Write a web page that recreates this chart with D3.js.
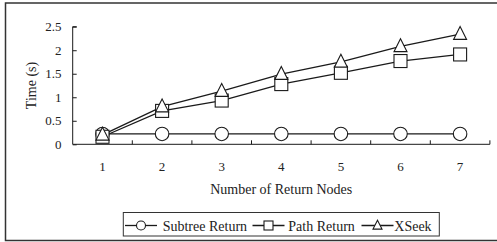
<!DOCTYPE html>
<html>
<head>
<meta charset="utf-8">
<script src="https://cdn.jsdelivr.net/npm/d3@7/dist/d3.min.js"></script>
<style>
  body { margin: 0; background: #fff; }
  svg text { font-family: 'Liberation Serif', 'DejaVu Serif', serif; fill: #222; }
</style>
</head>
<body>
<svg id="chart" width="497" height="242"></svg>
<script>
var categories = [1, 2, 3, 4, 5, 6, 7];
var subtreeReturn = [0.22, 0.22, 0.22, 0.22, 0.22, 0.22, 0.22];
var pathReturn = [0.16, 0.71, 0.93, 1.28, 1.52, 1.77, 1.91];
var xseek = [0.2, 0.8, 1.13, 1.49, 1.75, 2.08, 2.34];
var yTicks = [0, 0.5, 1, 1.5, 2, 2.5];
var seriesNames = ['Subtree Return', 'Path Return', 'XSeek'];
var seriesMarkers = ['circle', 'square', 'triangle'];

var svg = d3.select('#chart');
var ink = '#1a1a1a';
var serif = "'Liberation Serif', 'DejaVu Serif', serif";

// outer frame
svg.append('rect')
  .attr('x', 5.5).attr('y', 3)
  .attr('width', 496).attr('height', 237.5)
  .attr('fill', 'none')
  .attr('stroke', '#333')
  .attr('stroke-width', 1.5);

var x = d3.scaleBand().domain(categories).range([72.7, 489.9]);
var y = d3.scaleLinear().domain([0, 2.5]).range([144.3, 26.7]);

function cx(d) { return x(d) + x.bandwidth() / 2; }

// axes
var yAxis = svg.append('g')
  .attr('transform', 'translate(72.7,0)')
  .call(d3.axisRight(y).tickValues(yTicks).tickSize(4).tickFormat(d3.format('')));
yAxis.selectAll('text').remove();
yAxis.select('.domain').attr('d', 'M4,' + y(2.5) + 'H0V' + y(0) + 'H0');
yAxis.selectAll('line, path').attr('stroke', ink);

svg.append('g').selectAll('text')
  .data(yTicks).enter().append('text')
  .attr('x', 61.5).attr('y', function(d) { return y(d); })
  .attr('dy', '0.35em')
  .attr('text-anchor', 'end')
  .attr('font-family', serif)
  .attr('font-size', 13)
  .text(function(d) { return d; });

var xAxisG = svg.append('g').attr('transform', 'translate(0,' + y(0) + ')');
xAxisG.append('line')
  .attr('x1', x.range()[0]).attr('x2', x.range()[1])
  .attr('stroke', ink);
xAxisG.selectAll('.tick')
  .data(categories).enter().append('line')
  .attr('x1', function(d) { return x(d) + x.bandwidth(); })
  .attr('x2', function(d) { return x(d) + x.bandwidth(); })
  .attr('y1', 0).attr('y2', -4)
  .attr('stroke', ink);
xAxisG.selectAll('text')
  .data(categories).enter().append('text')
  .attr('x', cx).attr('y', 22)
  .attr('dy', '0.35em')
  .attr('text-anchor', 'middle')
  .attr('font-family', serif)
  .attr('font-size', 13)
  .text(function(d) { return d; });

// axis titles
svg.append('text')
  .attr('x', 281.2)
  .attr('y', 189).attr('dy', '0.35em')
  .attr('text-anchor', 'middle')
  .attr('font-family', serif)
  .attr('font-size', 14)
  .text('Number of Return Nodes');

svg.append('text')
  .attr('transform', 'translate(31,' + y(1.25) + ') rotate(-90)')
  .attr('dy', '0.35em')
  .attr('text-anchor', 'middle')
  .attr('font-family', serif)
  .attr('font-size', 14)
  .text('Time (s)');

// markers
function marker(g, type, px, py, s) {
  if (type === 'circle') {
    g.append('circle').attr('cx', px).attr('cy', py).attr('r', s / 2);
  } else if (type === 'square') {
    g.append('rect').attr('x', px - s / 2).attr('y', py - s / 2).attr('width', s).attr('height', s);
  } else {
    var h = s * 0.95;
    g.append('path').attr('d', 'M' + px + ',' + (py - h * 0.62) + 'L' + (px + s / 2) + ',' + (py + h * 0.42) +
      'L' + (px - s / 2) + ',' + (py + h * 0.42) + 'Z');
  }
}

var allSeries = [subtreeReturn, pathReturn, xseek];
var line = d3.line()
  .x(function(d, i) { return cx(categories[i]); })
  .y(function(d) { return y(d); });

allSeries.forEach(function(vals) {
  svg.append('path')
    .attr('d', line(vals))
    .attr('fill', 'none')
    .attr('stroke', ink)
    .attr('stroke-width', 1.3);
});
allSeries.forEach(function(vals, si) {
  var g = svg.append('g').attr('fill', '#fff').attr('stroke', ink).attr('stroke-width', 1.1);
  vals.forEach(function(v, i) {
    marker(g, seriesMarkers[si], cx(categories[i]), y(v), si === 0 ? 13.5 : 13);
  });
});

// legend
svg.append('rect')
  .attr('x', 123.3).attr('y', 212.5)
  .attr('width', 316).attr('height', 23.5)
  .attr('fill', '#fff')
  .attr('stroke', '#333')
  .attr('stroke-width', 1);

var legendX = [125, 252.5, 361.5];
var legendTextX = [162.7, 288.3, 394.3];
seriesNames.forEach(function(name, i) {
  var g = svg.append('g');
  g.append('line')
    .attr('x1', legendX[i]).attr('x2', legendX[i] + 32)
    .attr('y1', 225.5).attr('y2', 225.5)
    .attr('stroke', ink).attr('stroke-width', 1.3);
  var mg = g.append('g').attr('fill', '#fff').attr('stroke', ink).attr('stroke-width', 1.1);
  marker(mg, seriesMarkers[i], legendX[i] + 16, 225.5, 9);
  g.append('text')
    .attr('x', legendTextX[i]).attr('y', 226)
    .attr('dy', '0.35em')
    .attr('font-family', serif)
    .attr('font-size', 14)
    .text(name);
});
</script>
</body>
</html>
